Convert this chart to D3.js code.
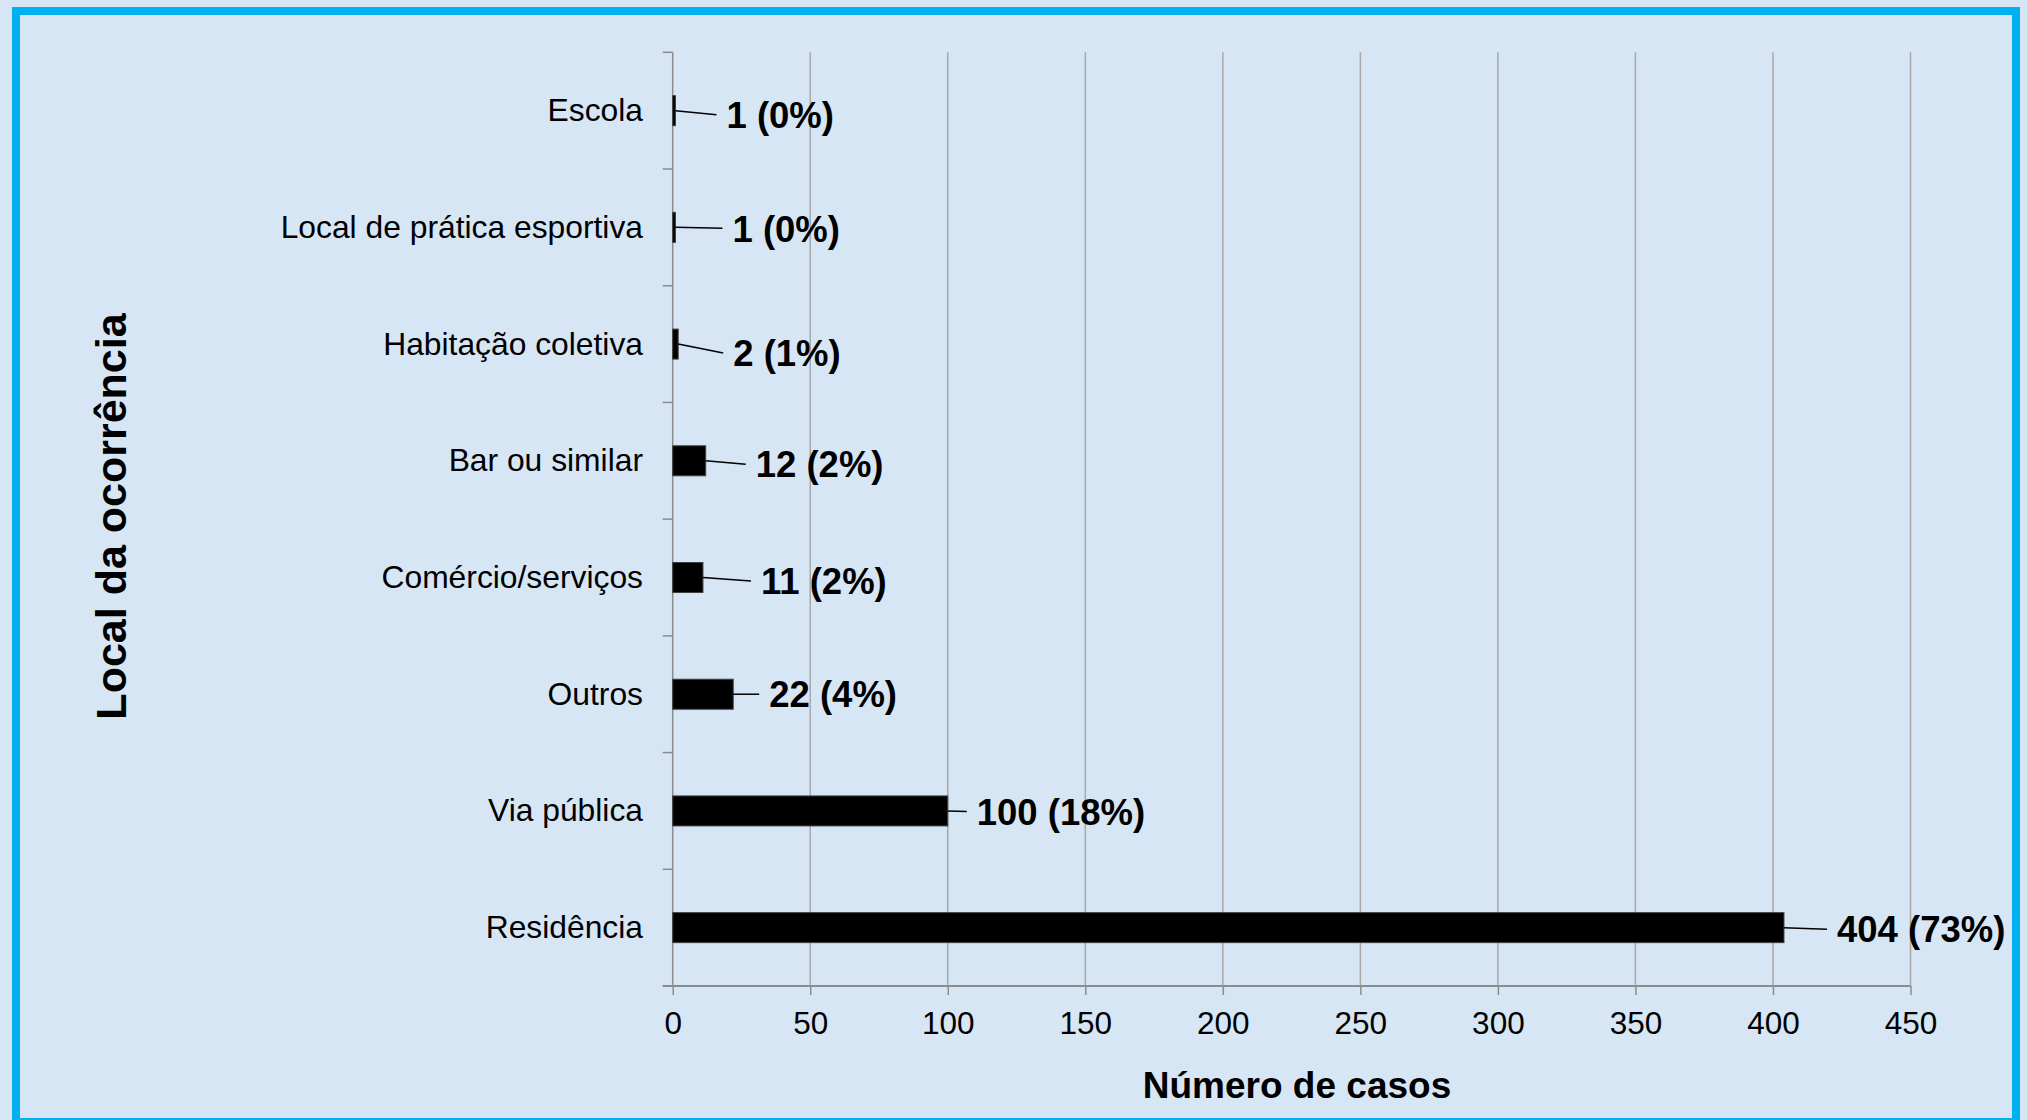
<!DOCTYPE html>
<html>
<head>
<meta charset="utf-8">
<script src="https://cdn.jsdelivr.net/npm/d3@7"></script>
<style>
  html, body { margin: 0; padding: 0; background: #d7e6f5; }
  svg { display: block; }
  text { font-family: "Liberation Sans", Arial, sans-serif; fill: #000; }
</style>
</head>
<body>
<svg id="chart" width="2027" height="1120"></svg>
<script>
// ---- data ----
const categories = ["Escola", "Local de prática esportiva", "Habitação coletiva", "Bar ou similar",
                    "Comércio/serviços", "Outros", "Via pública", "Residência"];
const cases = [1, 1, 2, 12, 11, 22, 100, 404];
const percents = [0, 0, 1, 2, 2, 4, 18, 73];
const xTicks = [0, 50, 100, 150, 200, 250, 300, 350, 400, 450];
const xTitle = "Número de casos";
const yTitle = "Local da ocorrência";

// ---- layout (label placement offsets, px from bar end / band centre) ----
const labelDx = [51, 57, 55, 50, 58, 36, 29, 53];
const labelDy = [4, 1, 9, 3.5, 3.5, 0, 0.5, 1.5];

const W = 2027, H = 1120;
const plot = { left: 672.7, right: 1910.5, top: 52.3, bottom: 986 };

const svg = d3.select("#chart");

// background + frame
svg.append("rect").attr("x", 0).attr("y", 0).attr("width", W).attr("height", H).attr("fill", "#d7e6f5");
svg.append("rect").attr("x", 16).attr("y", 11).attr("width", 2000).attr("height", 1111)
  .attr("fill", "none").attr("stroke", "#00b0f0").attr("stroke-width", 8);

const x = d3.scaleLinear().domain([0, 450]).range([plot.left, plot.right]);
const yBand = d3.scaleBand().domain(categories).range([plot.top, plot.bottom]).padding(0);
const barH = 30;
const yBar = d3.scaleBand().domain(categories).range([plot.top, plot.bottom])
  .paddingInner(1 - barH / yBand.step()).paddingOuter((1 - barH / yBand.step()) / 2);

// gridlines
svg.append("g").selectAll("line").data(xTicks.filter(d => d > 0)).join("line")
  .attr("x1", d => x(d)).attr("x2", d => x(d))
  .attr("y1", plot.top).attr("y2", plot.bottom)
  .attr("stroke", "#a8a8a8").attr("stroke-width", 1.5);

// x axis
const xAxis = svg.append("g").attr("transform", `translate(0,${plot.bottom})`)
  .call(d3.axisBottom(x).tickValues(xTicks).tickSize(9).tickPadding(17).tickSizeOuter(0));
xAxis.select(".domain").remove();
xAxis.selectAll(".tick line").attr("stroke", "#8c8c8c").attr("stroke-width", 1.5);
xAxis.selectAll(".tick text").attr("font-size", 31.5).attr("font-family", "Liberation Sans, Arial, sans-serif").attr("fill", "#000");
svg.append("line").attr("x1", plot.left - 10).attr("x2", plot.right)
  .attr("y1", plot.bottom).attr("y2", plot.bottom)
  .attr("stroke", "#8c8c8c").attr("stroke-width", 2);

// y axis: line, boundary ticks, labels
svg.append("line").attr("x1", plot.left).attr("x2", plot.left)
  .attr("y1", plot.top).attr("y2", plot.bottom)
  .attr("stroke", "#8c8c8c").attr("stroke-width", 1.5);
const bounds = categories.map(c => yBand(c)).concat([plot.bottom]);
svg.append("g").selectAll("line").data(bounds).join("line")
  .attr("x1", plot.left - 10).attr("x2", plot.left)
  .attr("y1", d => d).attr("y2", d => d)
  .attr("stroke", "#8c8c8c").attr("stroke-width", 1.5);
svg.append("g").selectAll("text").data(categories).join("text")
  .attr("x", 643).attr("y", d => yBand(d) + yBand.bandwidth() / 2 - 1)
  .attr("dy", "0.36em").attr("text-anchor", "end").attr("font-size", 31.8)
  .text(d => d);

// bars
svg.append("g").selectAll("rect").data(categories).join("rect")
  .attr("x", x(0)).attr("y", d => yBar(d))
  .attr("width", (d, i) => x(cases[i]) - x(0)).attr("height", yBar.bandwidth())
  .attr("fill", "#000").attr("stroke", "#404040").attr("stroke-width", 1);

// leader lines + labels
const lab = svg.append("g");
categories.forEach((c, i) => {
  const cy = yBand(c) + yBand.bandwidth() / 2;
  const xe = x(cases[i]);
  const lx = xe + labelDx[i];
  const ly = cy + labelDy[i];
  lab.append("line").attr("x1", xe).attr("y1", cy).attr("x2", lx - 10).attr("y2", ly)
    .attr("stroke", "#000").attr("stroke-width", 1.5);
  lab.append("text").attr("x", lx).attr("y", ly).attr("dy", "0.36em")
    .attr("font-size", 36.5).attr("font-weight", "bold")
    .text(`${cases[i]} (${percents[i]}%)`);
});

// axis titles
svg.append("text").attr("x", 1297).attr("y", 1098).attr("text-anchor", "middle")
  .attr("font-size", 37).attr("font-weight", "bold").text(xTitle);
svg.append("text").attr("transform", "translate(126,516.5) rotate(-90)")
  .attr("text-anchor", "middle").attr("font-size", 43).attr("font-weight", "bold").text(yTitle);
</script>
</body>
</html>
